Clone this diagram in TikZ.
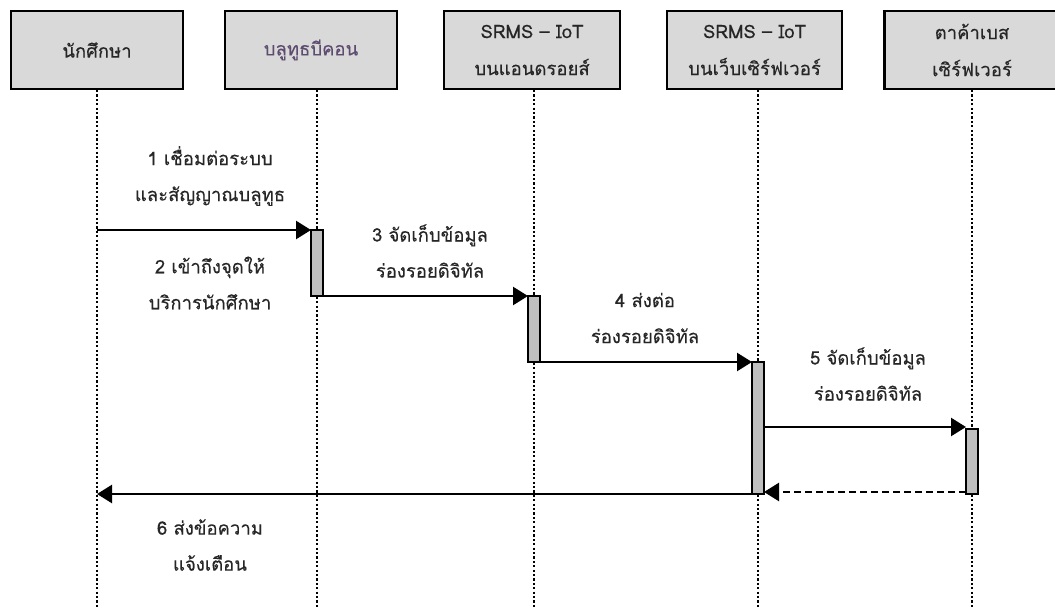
\documentclass[tikz,border=0pt]{standalone}
\usepackage{fontspec}
\newfontfamily\thaifont[Script=Thai,FakeBold=0.3]{Loma}
\usetikzlibrary{arrows.meta}
\definecolor{boxgray}{HTML}{D9D9D9}
\definecolor{actgray}{HTML}{BFBFBF}
\definecolor{beacon}{HTML}{5E4B70}
\definecolor{txt}{HTML}{262626}
\begin{document}
\begin{tikzpicture}[x=1pt,y=-1pt,
  party/.style={draw, line width=2.6pt, fill=boxgray, minimum height=78pt,
    inner sep=0pt, align=center, text=txt,
    font=\thaifont\fontsize{18.5}{37}\selectfont},
  life/.style={line width=2.4pt, dash pattern=on 2.2pt off 2.2pt},
  act/.style={draw, line width=2.6pt, fill=actgray, minimum width=12pt,
    inner sep=0pt, outer sep=0pt, anchor=north},
  msg/.style={line width=2.4pt, -{Triangle[length=15pt,width=18pt]}},
  ret/.style={line width=2.4pt, dash pattern=on 7pt off 4pt, -{Triangle[length=15pt,width=18pt]}},
  lbl/.style={align=center, text=txt, font=\thaifont\fontsize{18.5}{36}\selectfont}]
\useasboundingbox (0,0) rectangle (1055,609);

% participants
\node[party, minimum width=172pt] (p1) at (97,50) {นักศึกษา};
\node[party, minimum width=172pt, text=beacon] (p2) at (311,50) {บลูทูธบีคอน};
\node[party, minimum width=176pt] (p3) at (532,50) {SRMS – IoT\\บนแอนดรอยส์};
\node[party, minimum width=175pt] (p4) at (754.5,50) {SRMS – IoT\\บนเว็บเซิร์ฟเวอร์};
\node[party, minimum width=175pt] (p5) at (972,50) {ตาค้าเบส\\เซิร์ฟเวอร์};

% lifeline ends
\coordinate (t1) at (97,90);   \coordinate (b1) at (97,609);
\coordinate (t2) at (317,90);  \coordinate (b2) at (317,609);
\coordinate (t3) at (534,90);  \coordinate (b3) at (534,609);
\coordinate (t4) at (758,90);  \coordinate (b4) at (758,609);
\coordinate (t5) at (972,90);  \coordinate (b5) at (972,609);
\foreach \i in {1,...,5} { \draw[life] (t\i) -- (b\i); }

% activation bars
\node[act, minimum height=66pt] (a2) at (317,230) {};
\node[act, minimum height=66pt] (a3) at (534,296) {};
\node[act, minimum height=132pt] (a4) at (758,362) {};
\node[act, minimum height=65pt] (a5) at (972,429) {};

% messages
\draw[msg] (t1 |- a2.north) -- (a2.north west);
\draw[msg] (a2.south) -- (a3.north west);
\draw[msg] (a3.south) -- (a4.north west);
\coordinate (m5s) at ([yshift=-65pt]a4.north east);
\draw[msg] (m5s) -- (m5s -| a5.west);
\draw[ret] ([yshift=2pt]a5.south west) -- ([yshift=2pt]a4.south east);
\draw[msg] (a4.south west) -- (t1 |- a4.south);

% redraw bars on top
\node[act, minimum height=66pt] at (317,230) {};
\node[act, minimum height=66pt] at (534,296) {};
\node[act, minimum height=132pt] at (758,362) {};
\node[act, minimum height=65pt] at (972,429) {};

% labels
\node[lbl] (l1) at (210,176) {1 เชื่อมต่อระบบ\\และสัญญาณบลูทูธ};
\node[lbl] (l2) at (210,283) {2 เข้าถึงจุดให้\\บริการนักศึกษา};
\node[lbl] (l3) at (430,251) {3 จัดเก็บข้อมูล\\ร่องรอยดิจิทัล};
\node[lbl] (l4) at (645,318) {4 ส่งต่อ\\ร่องรอยดิจิทัล};
\node[lbl] (l5) at (868,374) {5 จัดเก็บข้อมูล\\ร่องรอยดิจิทัล};
\node[lbl] (l6) at (210,545) {6 ส่งข้อความ\\แจ้งเตือน};
\end{tikzpicture}
\end{document}
